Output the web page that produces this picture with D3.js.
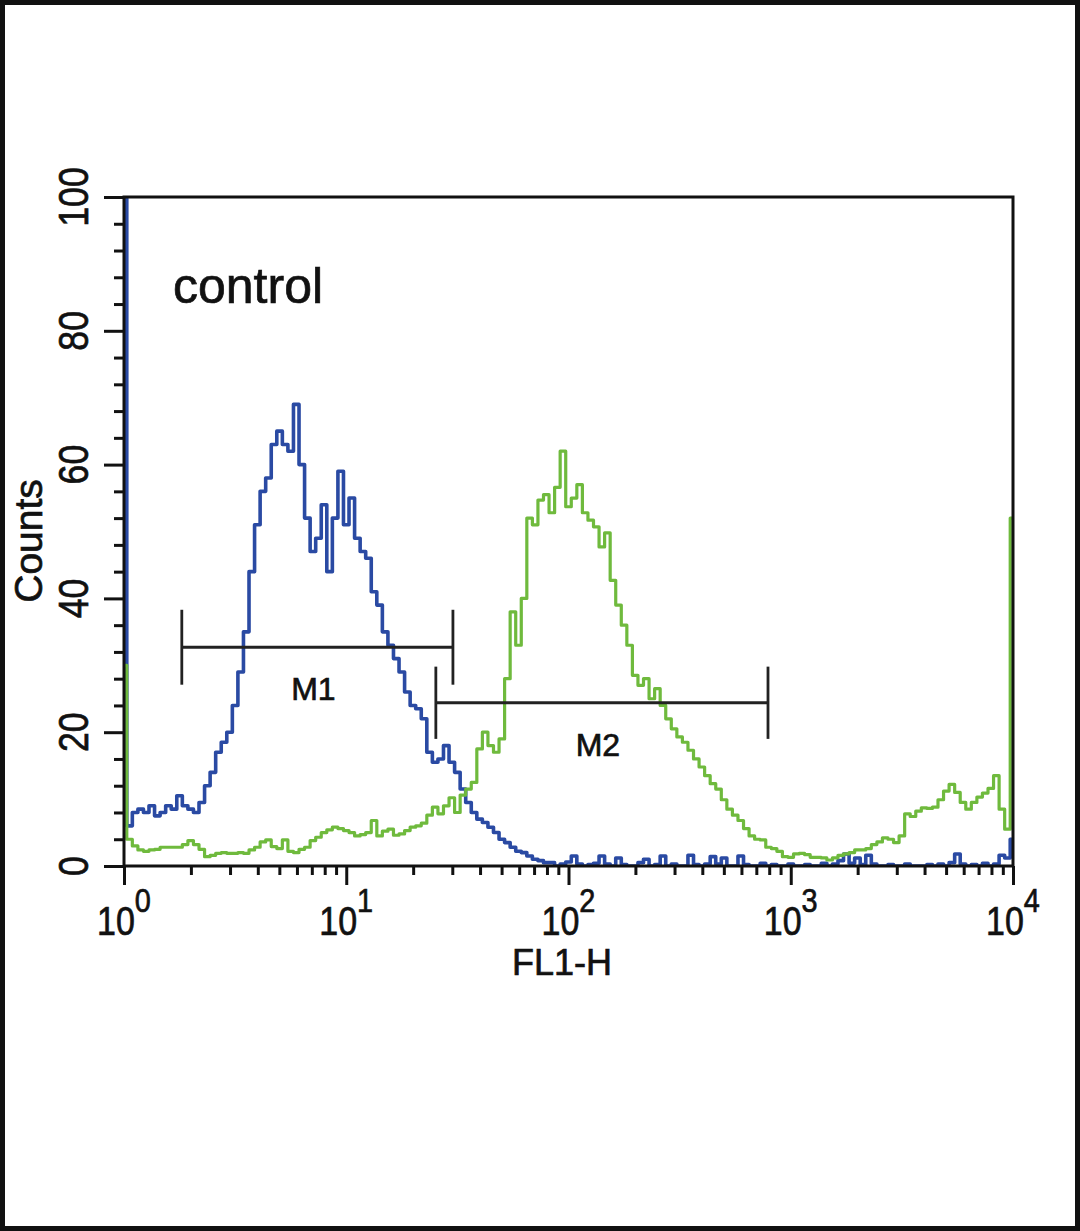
<!DOCTYPE html>
<html>
<head>
<meta charset="utf-8">
<title>FL1-H histogram</title>
<script src="https://d3js.org/d3.v7.min.js"></script>
<style>
	body { margin: 0; background: #fff; font-family: "Liberation Sans", Arial, sans-serif; }
	svg { display: block; }
	.frame { fill: none; stroke: #111; stroke-width: 3; }
	.axis path { display: none; }
	.axis line { stroke: #111; stroke-width: 3; }
	.lbl { fill: #111; stroke: #111; stroke-width: 0.7; }
</style>
</head>
<body>
<script>
// histogram channels: 40 bins per decade, 10^0 .. 10^4
var binsPerDecade = 40;

// counts of the blue histogram (one value per bin)
var blueCounts = [
	100, 6, 8, 8.5, 8, 9, 7.5, 8, 9, 8.5,
	10.5, 9, 8.5, 8, 9.5, 12, 14, 17, 18.5, 20,
	24, 29, 35, 44, 51, 56, 58, 63, 65, 63,
	62, 69, 60, 52, 47, 49, 54, 44, 52, 59,
	51, 55, 49, 47, 46, 41, 39, 35, 33, 31,
	29, 26, 24, 23.5, 22, 17, 15.5, 16, 18, 15.5,
	14, 11.5, 9.5, 8, 7, 6.5, 5.8, 5, 4, 3.5,
	2.8, 2.2, 2, 1.5, 1, 0.8, 0.5, 0.5, 0, 0.3,
	0.6, 1.5, 0.3, 0, 0.2, 0.4, 1.5, 0.3, 0, 1.2,
	0.2, 0, 0, 0.5, 1.0, 0, 0.2, 1.5, 0, 0.3,
	0, 0, 1.6, 0.2, 0, 0.3, 1.4, 0.3, 1.2, 0,
	0, 1.5, 0.2, 0, 0, 0.4, 0, 0.2, 0, 0,
	0.3, 0, 0, 0.2, 0, 0, 0.4, 0, 0.3, 0.8,
	1.8, 0.4, 1.2, 0.2, 1.6, 0.3, 0, 0, 0.2, 0,
	0, 0.3, 0, 0, 0, 0.2, 0, 0.3, 0, 0.5,
	1.8, 0.3, 0, 0.2, 0, 0.4, 0, 0.3, 1.6, 1.2,
	4
];

// counts of the green histogram
var greenCounts = [
	30, 4, 3, 2.4, 2.2, 2.4, 2.5, 2.8, 2.8, 2.8,
	2.8, 3.2, 3.8, 3.2, 2.5, 1.4, 1.6, 1.9, 2, 1.9,
	1.9, 2, 1.9, 2.4, 2.8, 3.6, 3.9, 2.9, 2.6, 3.9,
	2.2, 2, 2.5, 2.8, 3.8, 4.3, 5, 5.4, 5.8, 5.6,
	5.3, 5, 4.5, 4.7, 5, 6.8, 4.5, 5.2, 5.5, 4.6,
	4.8, 5.3, 5.8, 6, 6.4, 7.6, 8.8, 7.8, 9, 10.2,
	8, 10.6, 11.5, 12.5, 17.5, 20, 18, 17, 19, 28,
	38, 33, 40, 52, 51, 54.7, 55.5, 52.8, 56.6, 62,
	53.7, 55, 57, 52.8, 51.7, 50.7, 47.7, 49.8, 42.7, 39,
	36, 33, 28.5, 27, 28, 25, 26.5, 24, 22, 20.5,
	19.3, 18.5, 17.3, 16, 14.8, 13.5, 12.3, 11.5, 9.9, 8.5,
	7.6, 6.8, 5.6, 4.5, 4, 3.9, 2.8, 2.6, 2.2, 1.4,
	1.3, 1.8, 1.9, 1.7, 1.3, 1.3, 1.2, 0.9, 1.2, 1.6,
	1.8, 2, 2.4, 2.4, 2.6, 3.2, 3.6, 4.2, 4, 3.5,
	4.5, 7.8, 7.4, 8.2, 8.7, 8.6, 8.8, 9.9, 11.2, 12.2,
	11, 9.5, 8.5, 9.5, 10.3, 10.9, 11.6, 13.5, 8.5, 5.5,
	52
];

// markers M1 / M2 (range in FL1-H, height in counts)
var markerNames = ["M1", "M2"];
var markerLo = [1.82, 25.3];
var markerHi = [30.2, 790];
var markerLevel = [32.7, 24.4];
var markerCap = [5.6, 5.4];

// ticks
var xMajor = [1, 10, 100, 1000, 10000];
var xExp = ["0", "1", "2", "3", "4"];
var yMajor = [0, 20, 40, 60, 80, 100];
var yMinor = [4, 8, 12, 16, 24, 28, 32, 36, 44, 48, 52, 56, 64, 68, 72, 76, 84, 88, 92, 96];

var W = 1080, H = 1231;
var svg = d3.select("body").append("svg").attr("width", W).attr("height", H);
svg.append("rect").attr("width", W).attr("height", H).attr("fill", "#fff");
// outer border of the picture
svg.append("rect").attr("x", 2.5).attr("y", 2.5).attr("width", W - 5).attr("height", H - 5)
	.attr("fill", "none").attr("stroke", "#111").attr("stroke-width", 5);

var x = d3.scaleLog().domain([1, 10000]).range([124, 1013]);
var y = d3.scaleLinear().domain([0, 100]).range([866, 197]);

// minor x ticks 2..9 of each decade
var xMinor = [];
xMajor.slice(0, 4).forEach(function(d){
	for (var k = 2; k <= 9; k++) xMinor.push(d * k);
});

// axes (ticks only, labels drawn below)
svg.append("g").attr("class", "axis").attr("transform", "translate(0,866)")
	.call(d3.axisBottom(x).tickValues(xMinor).tickSize(9).tickFormat(""));
svg.append("g").attr("class", "axis").attr("transform", "translate(0,866)")
	.call(d3.axisBottom(x).tickValues(xMajor).tickSize(19).tickFormat(""));
svg.append("g").attr("class", "axis").attr("transform", "translate(124,0)")
	.call(d3.axisLeft(y).tickValues(yMinor).tickSize(10).tickFormat(""));
svg.append("g").attr("class", "axis").attr("transform", "translate(124,0)")
	.call(d3.axisLeft(y).tickValues(yMajor).tickSize(20).tickFormat(""));

// curves
svg.append("clipPath").attr("id", "plotclip").append("rect")
	.attr("x", x.range()[0] - 2).attr("y", y.range()[1])
	.attr("width", x.range()[1] - x.range()[0] + 4).attr("height", y.range()[0] - y.range()[1]);

var line = d3.line()
	.x(function(d, i){ return x(Math.pow(10, i / binsPerDecade)); })
	.y(function(d){ return y(Math.min(d, 100)); })
	.curve(d3.curveStep);

var curves = svg.append("g").attr("clip-path", "url(#plotclip)");
curves.append("path").datum(blueCounts).attr("d", line)
	.attr("fill", "none").attr("stroke", "#2a4aa3").attr("stroke-width", 3.6).attr("stroke-linejoin", "round");
curves.append("path").datum(greenCounts).attr("d", line)
	.attr("fill", "none").attr("stroke", "#6fba3d").attr("stroke-width", 3.2).attr("stroke-linejoin", "round");

// frame of the plot
svg.append("rect").attr("class", "frame")
	.attr("x", 124).attr("y", 197).attr("width", 1013 - 124).attr("height", 866 - 197);

// markers
var mk = svg.append("g").attr("stroke", "#222").attr("stroke-width", 2.8);
markerNames.forEach(function(name, i){
	mk.append("line").attr("x1", x(markerLo[i])).attr("x2", x(markerHi[i]))
		.attr("y1", y(markerLevel[i])).attr("y2", y(markerLevel[i]));
	[markerLo[i], markerHi[i]].forEach(function(v){
		mk.append("line").attr("x1", x(v)).attr("x2", x(v))
			.attr("y1", y(markerLevel[i] + markerCap[i])).attr("y2", y(markerLevel[i] - markerCap[i]));
	});
	svg.append("text").attr("class", "lbl")
		.attr("x", x(Math.sqrt(markerLo[i] * markerHi[i])) - 4)
		.attr("y", y(markerLevel[i]) + 53)
		.attr("text-anchor", "middle").attr("font-size", 32)
		.text(name);
});

// x tick labels: 10 with exponent
xMajor.forEach(function(v, i){
	var t = svg.append("text").attr("class", "lbl")
		.attr("transform", "translate(" + x(v) + ",935) scale(0.85,1)")
		.attr("text-anchor", "middle").attr("font-size", 40);
	t.append("tspan").text("10");
	t.append("tspan").attr("font-size", 34).attr("dy", -23).text(xExp[i]);
});

// y tick labels, rotated
yMajor.forEach(function(v){
	svg.append("text").attr("class", "lbl")
		.attr("transform", "translate(88," + y(v) + ") rotate(-90) scale(0.85,1)")
		.attr("text-anchor", "middle").attr("font-size", 42)
		.text(v);
});

// axis titles
svg.append("text").attr("class", "lbl")
	.attr("transform", "translate(42,541) rotate(-90)")
	.attr("text-anchor", "middle").attr("font-size", 39).text("Counts");
svg.append("text").attr("class", "lbl")
	.attr("x", 562).attr("y", 975).attr("text-anchor", "middle").attr("font-size", 36).text("FL1-H");

// sample label
svg.append("text").attr("class", "lbl").attr("fill", "#222").attr("stroke-width", 0.4)
	.attr("x", 173).attr("y", 303).attr("font-size", 50).text("control");
</script>
</body>
</html>
